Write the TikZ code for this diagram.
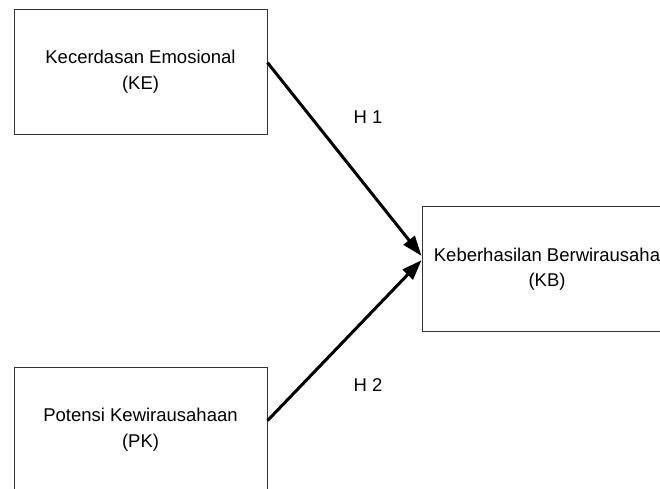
\documentclass[tikz,border=0pt]{standalone}
\usepackage{fontspec}
\setmainfont{Liberation Sans}
\usetikzlibrary{arrows.meta}

\begin{document}
\begin{tikzpicture}[x=1pt,y=-1pt]
            \tikzset{Box/.style={%
                shape=rectangle,%
                draw=black!80,%
                line width=1pt,%
                minimum width=253pt,%
                minimum height=125pt,%
                align=center,%
                inner sep=0pt,%
                font=\fontsize{18.5}{25.5}\selectfont,%
            }}
            \tikzset{Hyp/.style={%
                font=\fontsize{18.5}{22}\selectfont,%
            }}
            \useasboundingbox (0,0) rectangle (660,488);

            \node[Box] (ke) at (140.5,71.5) {Kecerdasan Emosional\\(KE)};
            \node[Box] (pk) at (140.5,429.5) {Potensi Kewirausahaan\\(PK)};
            \node[Box, minimum width=250pt] (kb) at (547,269) {Keberhasilan Berwirausaha\\(KB)};

            \node[Hyp] (h1) at (368,117) {H 1};
            \node[Hyp] (h2) at (368,385) {H 2};

            \path (ke.4) edge[-{Triangle[length=20pt,width=14pt]},line width=3pt] (kb.174.5);
            \path (pk.4) edge[-{Triangle[length=20pt,width=14pt]},line width=3pt] (kb.176.5);
        \end{tikzpicture}
\end{document}
